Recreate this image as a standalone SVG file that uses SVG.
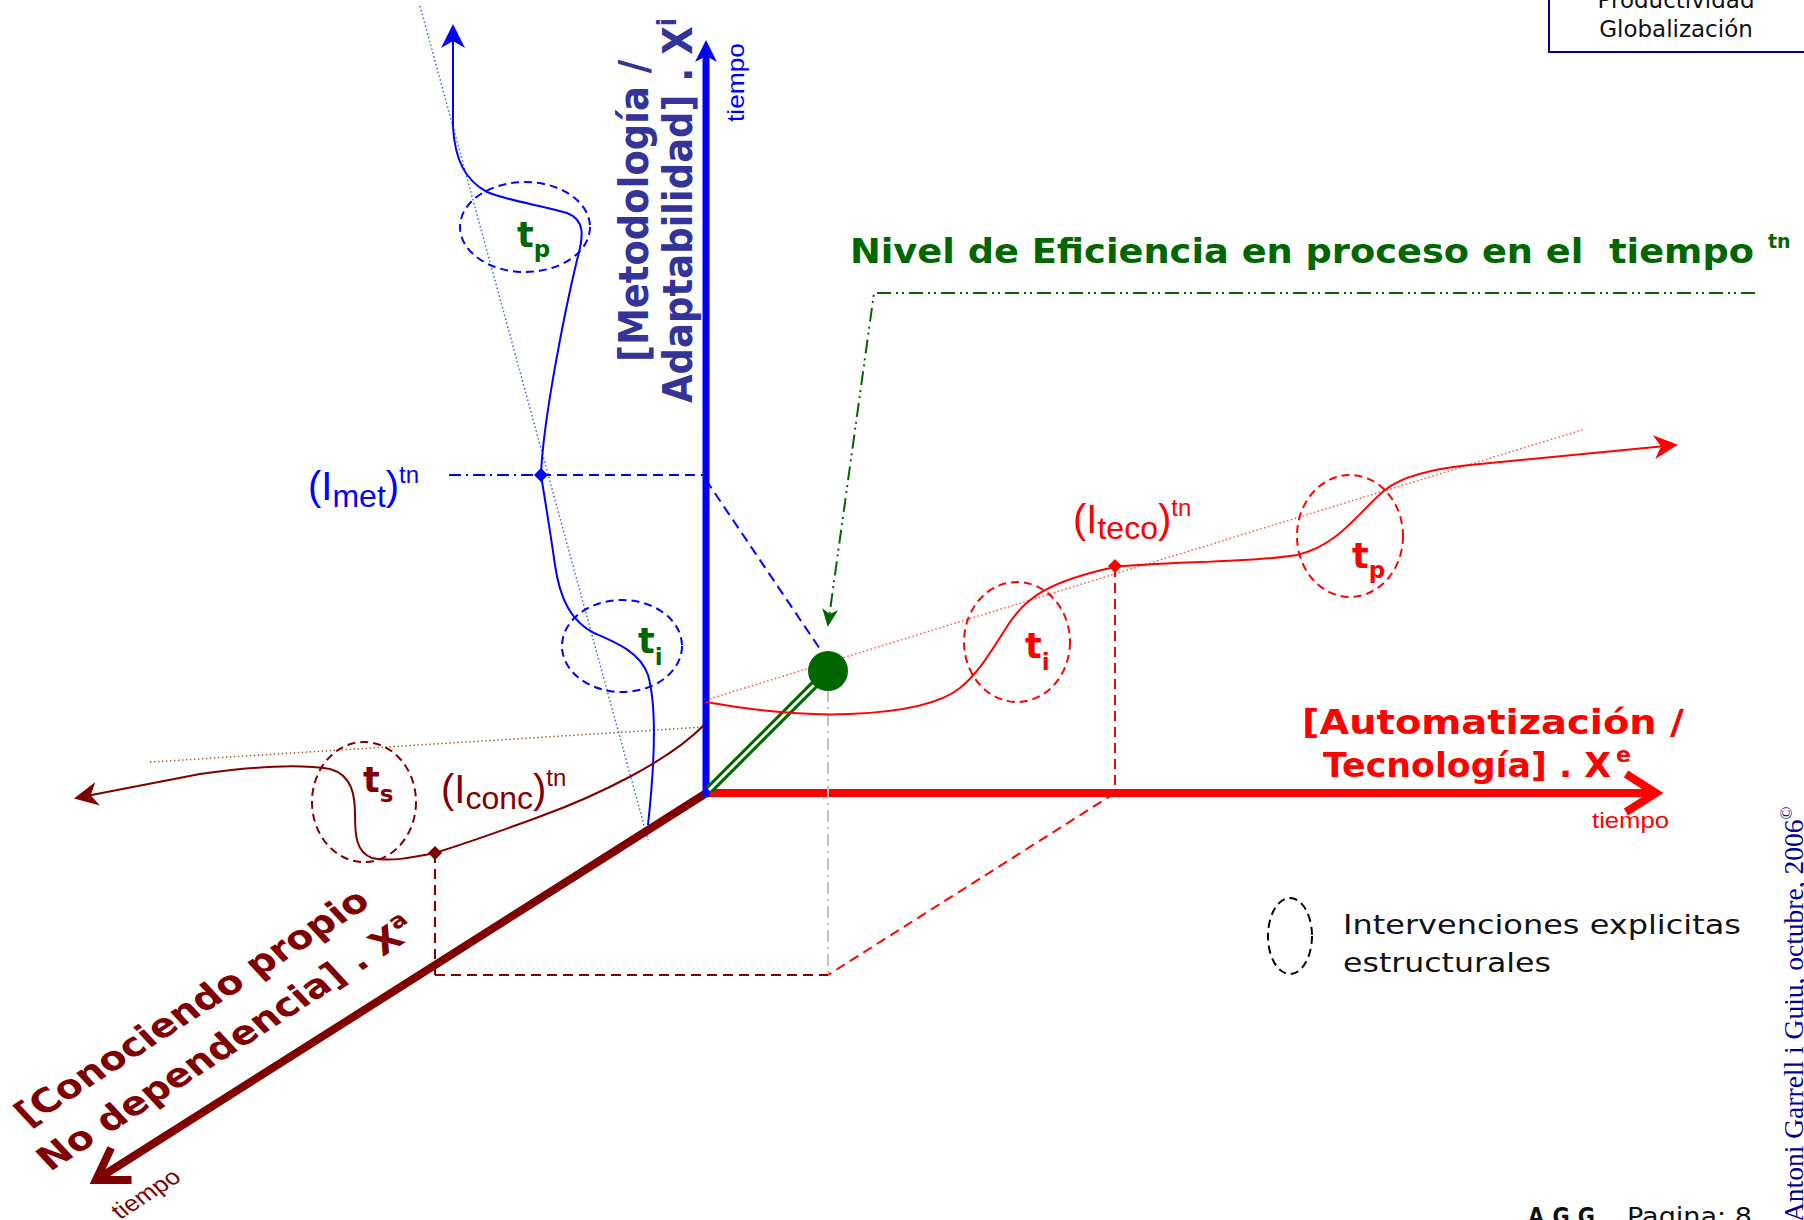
<svg xmlns="http://www.w3.org/2000/svg" width="1804" height="1220" viewBox="0 0 1804 1220">
<style>
.bl{font-family:"DejaVu Sans",Verdana,sans-serif;font-weight:bold}
.rg{font-family:"DejaVu Sans",Verdana,sans-serif}
.ar{font-family:"Liberation Sans",Arial,sans-serif}
.thin{fill:none;stroke-width:2}
.dash{stroke-dasharray:10 6}
.dashdot{stroke-dasharray:12 5 2 5}
.dot{stroke-dasharray:1.5 2.5;stroke-width:1.5;fill:none}
.ell{fill:none;stroke-width:2;stroke-dasharray:8 5}
</style>
<defs>
<marker id="mBlueAxis" markerUnits="userSpaceOnUse" orient="auto" markerWidth="60" markerHeight="60" viewBox="-30 -30 60 60" refX="0" refY="0" overflow="visible"><path d="M16,0 L-6,-11 L0,0 L-6,11 Z" fill="#0000FF"/></marker>
<marker id="mBlue" markerUnits="userSpaceOnUse" orient="auto" markerWidth="60" markerHeight="60" viewBox="-30 -30 60 60" refX="0" refY="0" overflow="visible"><path d="M2,0 L-22,-12 L-15,0 L-22,12 Z" fill="#0000FF"/></marker>
<marker id="mRed" markerUnits="userSpaceOnUse" orient="auto" markerWidth="60" markerHeight="60" viewBox="-30 -30 60 60" refX="0" refY="0" overflow="visible"><path d="M2,0 L-22,-12 L-15,0 L-22,12 Z" fill="#FF0000"/></marker>
<marker id="mMaroon" markerUnits="userSpaceOnUse" orient="auto" markerWidth="60" markerHeight="60" viewBox="-30 -30 60 60" refX="0" refY="0" overflow="visible"><path d="M2,0 L-22,-12 L-15,0 L-22,12 Z" fill="#800000"/></marker>
<marker id="mGreen" markerUnits="userSpaceOnUse" orient="auto" markerWidth="40" markerHeight="40" viewBox="-20 -20 40 40" refX="0" refY="0" overflow="visible"><path d="M2,0 L-16,-8 L-11,0 L-16,8 Z" fill="#006600"/></marker>
<marker id="mRedChev" markerUnits="userSpaceOnUse" orient="auto" markerWidth="80" markerHeight="80" viewBox="-40 -40 80 80" refX="0" refY="0" overflow="visible"><path d="M-30,-19 L0,0 L-30,19" fill="none" stroke="#FF0000" stroke-width="8"/></marker>
<marker id="mMaroonChev" markerUnits="userSpaceOnUse" orient="auto" markerWidth="80" markerHeight="80" viewBox="-40 -40 80 80" refX="0" refY="0" overflow="visible"><path d="M-30,-19 L0,0 L-30,19" fill="none" stroke="#800000" stroke-width="8"/></marker>
<path id="diamond" d="M0,-7 L7,0 L0,7 L-7,0 Z"/>
</defs>
<rect width="1804" height="1220" fill="#FFFFFF"/>

<g id="header">
<rect x="1549" y="-30" width="270" height="82" fill="#FFFFFF" stroke="#000099" stroke-width="2"/>
<text class="rg" x="1676" y="8" font-size="23" text-anchor="middle" fill="#111111">Productividad</text>
<text class="rg" x="1676" y="37" font-size="23" text-anchor="middle" fill="#111111">Globalización</text>
</g>

<g id="guides">
<line class="dot" x1="420" y1="6" x2="648" y2="840" stroke="#3366FF"/>
<line class="dot" x1="706" y1="700" x2="1585" y2="429" stroke="#FF5050"/>
<line class="dot" x1="150" y1="762" x2="704" y2="727" stroke="#996633"/>
</g>

<g id="axes">
<line x1="708" y1="792" x2="96" y2="1180" stroke="#800000" stroke-width="8" marker-end="url(#mMaroonChev)"/>
<line x1="703" y1="793" x2="1656" y2="793" stroke="#FF0000" stroke-width="8" marker-end="url(#mRedChev)"/>
<line x1="706" y1="797" x2="706" y2="56" stroke="#0000FF" stroke-width="7" marker-end="url(#mBlueAxis)"/>
</g>

<g id="connectors">
<line class="thin dashdot" x1="449" y1="475" x2="541" y2="475" stroke="#0000FF"/>
<line class="thin dash" x1="541" y1="475" x2="706" y2="475" stroke="#0000FF"/>
<line class="thin dash" x1="706" y1="480" x2="822" y2="652" stroke="#0000FF"/>
<line class="thin dash" x1="1115" y1="567" x2="1115" y2="793" stroke="#FF0000"/>
<line class="thin dash" x1="1115" y1="793" x2="828" y2="975" stroke="#FF0000"/>
<line class="thin dash" x1="435" y1="853" x2="435" y2="975" stroke="#800000"/>
<line class="thin dash" x1="435" y1="975" x2="828" y2="975" stroke="#800000"/>
<line class="thin dashdot" x1="828" y1="690" x2="828" y2="975" stroke="#BFBFBF"/>
<path class="thin" d="M1755,293 L874,293 L828,625" stroke="#006600" stroke-dasharray="14 5 2 4 2 5" marker-end="url(#mGreen)"/>
</g>

<g id="point-eficiencia">
<line x1="709" y1="790" x2="815" y2="684" stroke="#006600" stroke-width="9"/>
<line x1="709" y1="790" x2="815" y2="684" stroke="#FFFFFF" stroke-width="3"/>
<circle cx="828" cy="671" r="20" fill="#006600"/>
</g>

<g id="curve-met">
<path class="thin" stroke="#0000FF" d="M648,825 C654,770 658,710 648,675 C640,652 615,642 594,633 C572,622 560,600 555,565 C550,530 545,500 541,475 C543,420 565,310 577,260 C584,235 585,220 567,213 C540,205 505,200 487,192 C465,180 455,160 453,127 L453,26" marker-end="url(#mBlue)"/>
<use href="#diamond" x="541" y="475" fill="#0000FF"/>
<ellipse class="ell" cx="525" cy="227" rx="65" ry="45" stroke="#0000FF"/>
<ellipse class="ell" cx="622" cy="646" rx="60" ry="46" stroke="#0000FF"/>
<text class="bl" x="517" y="247" font-size="35" fill="#006600">t<tspan font-size="23" dy="10">p</tspan></text>
<text class="bl" x="638" y="653" font-size="35" fill="#006600">t<tspan font-size="23" dy="12">i</tspan></text>
<text class="ar" x="308" y="500" font-size="40" fill="#0000FF">(I<tspan font-size="32" dy="7">met</tspan><tspan dy="-7">)</tspan><tspan font-size="24" dy="-17">tn</tspan></text>
</g>

<g id="curve-teco">
<path class="thin" stroke="#FF0000" d="M706,702 C750,710 800,716 850,714 C900,712 940,704 960,688 C980,672 995,645 1010,622 C1025,600 1045,582 1115,567 C1160,562 1260,562 1297,555 C1340,545 1360,510 1385,490 C1405,474 1440,468 1470,465 L1676,445" marker-end="url(#mRed)"/>
<use href="#diamond" x="1115" y="566" fill="#FF0000"/>
<ellipse class="ell" cx="1017" cy="642" rx="53" ry="60" stroke="#FF0000"/>
<ellipse class="ell" cx="1350" cy="536" rx="53" ry="61" stroke="#FF0000"/>
<text class="bl" x="1025" y="658" font-size="35" fill="#FF0000">t<tspan font-size="23" dy="12">i</tspan></text>
<text class="bl" x="1352" y="568" font-size="35" fill="#FF0000">t<tspan font-size="23" dy="10">p</tspan></text>
<text class="ar" x="1073" y="533" font-size="40" fill="#FF0000">(I<tspan font-size="32" dy="6">teco</tspan><tspan dy="-6">)</tspan><tspan font-size="24" dy="-17">tn</tspan></text>
</g>

<g id="curve-conc">
<path class="thin" stroke="#800000" d="M704,725 C670,760 600,795 536,818 C490,835 460,845 435,853 C410,858 390,862 372,858 C356,852 355,835 355,815 C355,795 352,775 330,769 C300,764 250,767 200,774 L76,798" marker-end="url(#mMaroon)"/>
<use href="#diamond" x="435" y="853" fill="#800000"/>
<ellipse class="ell" cx="364" cy="802" rx="52" ry="60" stroke="#800000"/>
<text class="bl" x="363" y="792" font-size="35" fill="#800000">t<tspan font-size="23" dy="10">s</tspan></text>
<text class="ar" x="441" y="803" font-size="40" fill="#800000">(I<tspan font-size="32" dy="6">conc</tspan><tspan dy="-6">)</tspan><tspan font-size="24" dy="-17">tn</tspan></text>
</g>

<g id="label-metodologia">
<text class="bl" transform="translate(648,362) scale(1.1,1) rotate(-90)" font-size="37" fill="#333399">[Metodología /</text>
<text class="bl" transform="translate(692,403) scale(1.1,1) rotate(-90)" font-size="37" fill="#333399">Adaptabilidad] . X<tspan font-size="24" dy="-15">i</tspan></text>
<text class="ar" transform="translate(744,122) rotate(-90)" font-size="24" textLength="79" lengthAdjust="spacingAndGlyphs" fill="#0000FF">tiempo</text>
</g>

<g id="label-automatizacion">
<text class="bl" x="1302" y="734" font-size="34" textLength="382" lengthAdjust="spacingAndGlyphs" fill="#FF0000">[Automatización /</text>
<text class="bl" x="1323" y="777" font-size="34" textLength="288" lengthAdjust="spacingAndGlyphs" fill="#FF0000">Tecnología] . X</text>
<text class="bl" x="1616" y="762" font-size="22" fill="#FF0000">e</text>
<text class="ar" x="1592" y="828" font-size="22" textLength="77" lengthAdjust="spacingAndGlyphs" fill="#FF0000">tiempo</text>
</g>

<g id="label-conociendo">
<text class="bl" transform="translate(28,1127) scale(1.2,1) rotate(-37.8)" font-size="33" fill="#800000">[Conociendo propio</text>
<text class="bl" transform="translate(50,1172) scale(1.2,1) rotate(-37.8)" font-size="33" fill="#800000">No dependencia] . X<tspan font-size="21" dy="-14">a</tspan></text>
<text class="ar" transform="translate(120,1220) scale(1.2,1) rotate(-37.8)" font-size="22" fill="#800000">tiempo</text>
</g>

<g id="label-eficiencia">
<text class="bl" x="850" y="263" font-size="33" textLength="904" lengthAdjust="spacingAndGlyphs" fill="#006600" xml:space="preserve">Nivel de Eficiencia en proceso en el  tiempo</text>
<text class="bl" x="1768" y="248" font-size="19" fill="#006600">tn</text>
</g>

<g id="legend">
<ellipse class="ell" cx="1290" cy="936" rx="22" ry="38" stroke="#000000" stroke-dasharray="6 5"/>
<text class="rg" x="1343" y="934" font-size="27" textLength="398" lengthAdjust="spacingAndGlyphs" fill="#111111">Intervenciones explicitas</text>
<text class="rg" x="1343" y="972" font-size="27" textLength="208" lengthAdjust="spacingAndGlyphs" fill="#111111">estructurales</text>
</g>

<g id="footer">
<text class="bl" x="1528" y="1225" font-size="24" textLength="75" lengthAdjust="spacingAndGlyphs" fill="#111111">A.G.G.</text>
<text class="rg" x="1627" y="1225" font-size="24" textLength="125" lengthAdjust="spacingAndGlyphs" fill="#111111">Pagina: 8</text>
<text transform="translate(1803,1222) rotate(-90)" font-family="'Liberation Serif','Times New Roman',serif" font-size="27.5" fill="#000099">Antoni Garrell i Guiu, octubre, 2006<tspan font-size="17" dy="-11">©</tspan></text>
</g>
</svg>
